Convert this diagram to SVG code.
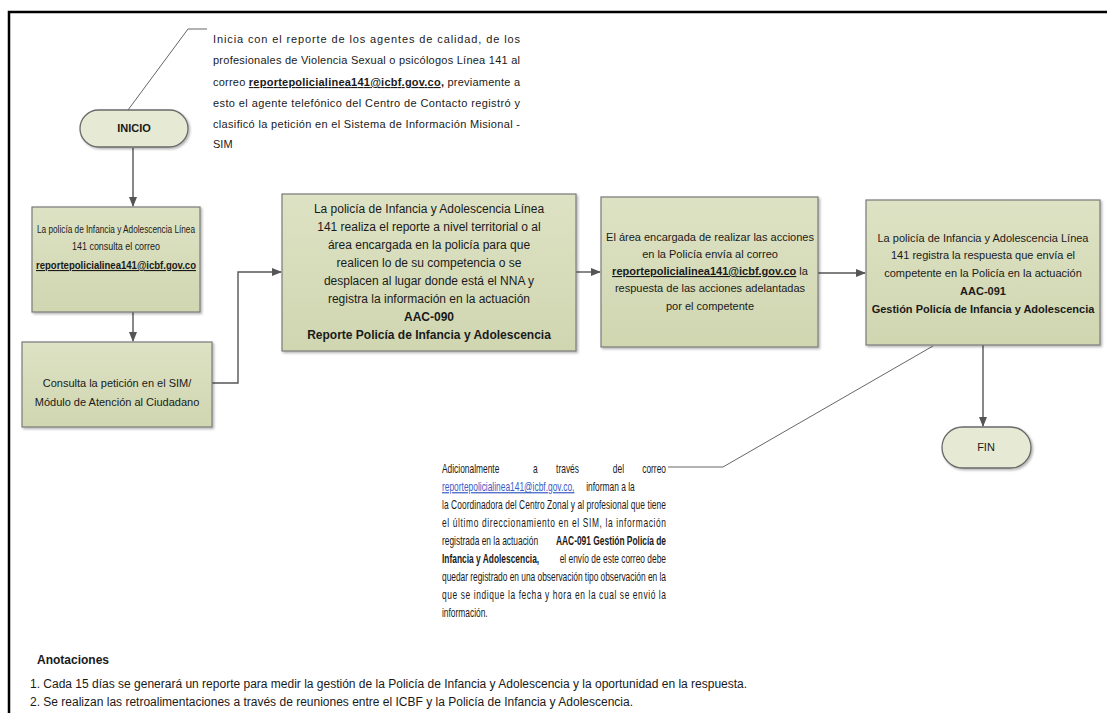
<svg xmlns="http://www.w3.org/2000/svg" width="1107" height="713" viewBox="0 0 1107 713">
<defs>
<linearGradient id="g" x1="0" y1="0" x2="0" y2="1">
<stop offset="0" stop-color="#dde2c4"/>
<stop offset="1" stop-color="#d0d6b0"/>
</linearGradient>
<marker id="ah" markerWidth="10" markerHeight="8" refX="9" refY="4" orient="auto" markerUnits="userSpaceOnUse">
<path d="M0,0 L10,4 L0,8 z" fill="#555"/>
</marker>
<filter id="sh" x="-5%" y="-5%" width="112%" height="115%">
<feDropShadow dx="1.5" dy="1.5" stdDeviation="1" flood-color="#000" flood-opacity="0.3"/>
</filter>
</defs>
<style>
text{font-family:"Liberation Sans",Arial,sans-serif;font-size:11px;fill:#1a1a1a}
.c{text-anchor:middle}
.b{font-weight:bold}
.u{text-decoration:underline}
.s10{font-size:10px}
.s12{font-size:12px}
.box{fill:url(#g);stroke:#7a7a7a;stroke-width:1.2;filter:url(#sh)}
.pill{fill:#e6e9d4;stroke:#6a6a6a;stroke-width:1.3;filter:url(#sh)}
.con{fill:none;stroke:#555;stroke-width:1.4}
.note{fill:none;stroke:#666;stroke-width:1}
.lnk{fill:#3b5bc4}
</style>
<rect width="1107" height="713" fill="#fff"/>
<path d="M9,713 V12 H1107" fill="none" stroke="#000" stroke-width="2.5"/>

<g id="connectors">
<path class="con" d="M133,148 V206" marker-end="url(#ah)"/>
<path class="con" d="M133,312 V341" marker-end="url(#ah)"/>
<path class="con" d="M212,383 H238 V272 H281" marker-end="url(#ah)"/>
<path class="con" d="M576,272 H600" marker-end="url(#ah)"/>
<path class="con" d="M818,273 H865" marker-end="url(#ah)"/>
<path class="con" d="M983,345 V426" marker-end="url(#ah)"/>
<path class="note" d="M207,29 H188 L128,110"/>
<path class="note" d="M933,346 L723,467 H668"/>
</g>

<g id="inicio">
<rect class="pill" x="80" y="110" width="108" height="37" rx="18.5"/>
<text class="c b" x="134" y="132">INICIO</text>
</g>

<g id="note-inicio">
<text x="213" y="43" textLength="307" lengthAdjust="spacing">Inicia con el reporte de los agentes de calidad, de los</text>
<text x="213" y="64" textLength="307" lengthAdjust="spacing">profesionales de Violencia Sexual o psicólogos Línea 141 al</text>
<text x="213" y="86" textLength="307" lengthAdjust="spacing">correo <tspan class="b u">reportepolicialinea141@icbf.gov.co,</tspan> previamente a</text>
<text x="213" y="107" textLength="307" lengthAdjust="spacing">esto el agente telefónico del Centro de Contacto registró y</text>
<text x="213" y="128" textLength="307" lengthAdjust="spacing">clasificó la petición en el Sistema de Información Misional -</text>
<text x="213" y="148">SIM</text>
</g>

<g id="box1">
<rect class="box" x="32" y="207" width="168" height="105"/>
<text class="c s10" x="116" y="233" textLength="158" lengthAdjust="spacingAndGlyphs">La policía de Infancia y Adolescencia Línea</text>
<text class="c s10" x="116" y="250" textLength="88" lengthAdjust="spacingAndGlyphs">141 consulta el correo</text>
<text class="c b u" x="116" y="269" textLength="160" lengthAdjust="spacingAndGlyphs">reportepolicialinea141@icbf.gov.co</text>
</g>

<g id="box2">
<rect class="box" x="22" y="342" width="190" height="85"/>
<text class="c" x="117" y="387">Consulta la petición en el SIM/</text>
<text class="c" x="117" y="406">Módulo de Atención al Ciudadano</text>
</g>

<g id="box3">
<rect class="box" x="282" y="194" width="294" height="157"/>
<text class="c s12" x="429" y="213">La policía de Infancia y Adolescencia Línea</text>
<text class="c s12" x="429" y="231">141 realiza el reporte a nivel territorial o al</text>
<text class="c s12" x="429" y="249">área encargada en la policía para que</text>
<text class="c s12" x="429" y="267">realicen lo de su competencia o se</text>
<text class="c s12" x="429" y="285">desplacen al lugar donde está el NNA y</text>
<text class="c s12" x="429" y="303">registra la información en la actuación</text>
<text class="c b s12" x="429" y="321">AAC-090</text>
<text class="c b s12" x="429" y="339">Reporte Policía de Infancia y Adolescencia</text>
</g>

<g id="box4">
<rect class="box" x="601" y="197" width="217" height="150"/>
<text class="c" x="710" y="241">El área encargada de realizar las acciones</text>
<text class="c" x="710" y="258">en la Policía envía al correo</text>
<text class="c" x="710" y="275"><tspan class="b u">reportepolicialinea141@icbf.gov.co</tspan> la</text>
<text class="c" x="710" y="292">respuesta de las acciones adelantadas</text>
<text class="c" x="710" y="310">por el competente</text>
</g>

<g id="box5">
<rect class="box" x="866" y="200" width="234" height="145"/>
<text class="c" x="983" y="242">La policía de Infancia y Adolescencia Línea</text>
<text class="c" x="983" y="259">141 registra la respuesta que envía el</text>
<text class="c" x="983" y="277">competente en la Policía en la actuación</text>
<text class="c b" x="983" y="295">AAC-091</text>
<text class="c b" x="983" y="313">Gestión Policía de Infancia y Adolescencia</text>
</g>

<g id="fin">
<rect class="pill" x="942" y="427" width="89" height="41" rx="20.5"/>
<text class="c" x="986" y="451">FIN</text>
</g>

<g id="note-fin" transform="translate(442,0) scale(0.7,1) translate(-442,0)">
<text class="s12" x="442" y="473">Adicionalmente</text>
<text class="s12" x="572" y="473">a</text>
<text class="s12" x="605" y="473">través</text>
<text class="s12" x="686" y="473">del</text>
<text class="s12" x="762" y="473" text-anchor="end">correo</text>
<text class="s12 lnk u" x="442" y="491">reportepolicialinea141@icbf.gov.co,</text>
<text class="s12" x="648" y="491">informan a la</text>
<text class="s12" x="442" y="509" textLength="320" lengthAdjust="spacing">la Coordinadora del Centro Zonal y al profesional que tiene</text>
<text class="s12" x="442" y="527" textLength="320" lengthAdjust="spacing">el último direccionamiento en el SIM,  la información</text>
<text class="s12" x="442" y="545">registrada en la actuación</text>
<text class="s12 b" x="762" y="545" text-anchor="end">AAC-091 Gestión Policía de</text>
<text class="s12 b" x="442" y="563">Infancia y Adolescencia,</text>
<text class="s12" x="762" y="563" text-anchor="end">el envío de este correo debe</text>
<text class="s12" x="442" y="581" textLength="320" lengthAdjust="spacing">quedar registrado en una observación tipo observación en la</text>
<text class="s12" x="442" y="599" textLength="320" lengthAdjust="spacing">que se indique la fecha y hora en la cual se envió la</text>
<text class="s12" x="442" y="617">información.</text>
</g>

<g id="anotaciones">
<text class="b s12" x="37" y="664">Anotaciones</text>
<text class="s12" x="30" y="688">1. Cada 15 días se generará un reporte para medir la gestión de la Policía de Infancia y Adolescencia y la oportunidad en la respuesta.</text>
<text class="s12" x="30" y="706">2. Se realizan las retroalimentaciones a través de reuniones entre el ICBF y la Policía de Infancia y Adolescencia.</text>
</g>
</svg>
